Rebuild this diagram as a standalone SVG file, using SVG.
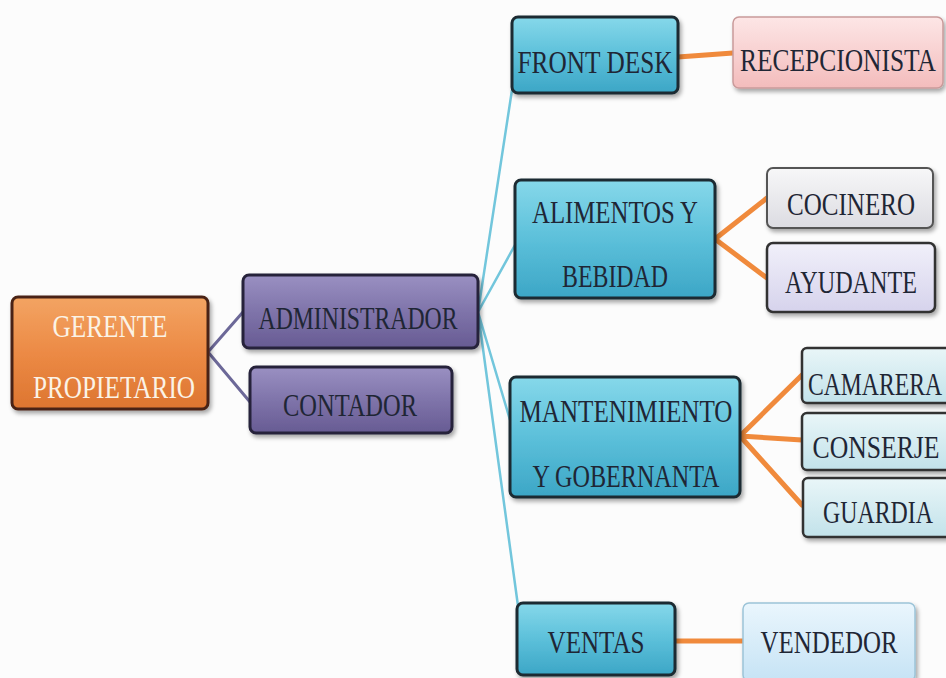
<svg xmlns="http://www.w3.org/2000/svg" width="946" height="678" viewBox="0 0 946 678">
<defs>
<style>
.t{font-family:"Liberation Serif","DejaVu Serif","Noto Serif",serif;font-size:32px;text-anchor:middle}
.dk{fill:#1f2635}
.lt{fill:#fbf3e6}
.b{stroke-width:3}
.cp{fill:none;stroke:#6c6898;stroke-width:3}
.ct{fill:none;stroke:#72c6dc;stroke-width:2.5}
.co{fill:none;stroke:#f08a3c;stroke-width:5;stroke-linecap:round}
</style>
<filter id="sh" x="-10%" y="-10%" width="130%" height="140%">
<feDropShadow dx="2" dy="3" stdDeviation="2" flood-color="#000" flood-opacity="0.35"/>
</filter>
<linearGradient id="gO" x1="0" y1="0" x2="0" y2="1"><stop offset="0" stop-color="#f3a463"/><stop offset="0.5" stop-color="#ec8a45"/><stop offset="1" stop-color="#dd7530"/></linearGradient>
<linearGradient id="gP" x1="0" y1="0" x2="0" y2="1"><stop offset="0" stop-color="#9a90c2"/><stop offset="0.5" stop-color="#7f74aa"/><stop offset="1" stop-color="#675b93"/></linearGradient>
<linearGradient id="gT" x1="0" y1="0" x2="0" y2="1"><stop offset="0" stop-color="#86d8ea"/><stop offset="0.5" stop-color="#5cc0da"/><stop offset="1" stop-color="#3ca6c6"/></linearGradient>
<linearGradient id="gK" x1="0" y1="0" x2="0" y2="1"><stop offset="0" stop-color="#fde6e6"/><stop offset="1" stop-color="#f3bcbc"/></linearGradient>
<linearGradient id="gG" x1="0" y1="0" x2="0" y2="1"><stop offset="0" stop-color="#f7f7f8"/><stop offset="1" stop-color="#dcdce2"/></linearGradient>
<linearGradient id="gL" x1="0" y1="0" x2="0" y2="1"><stop offset="0" stop-color="#f1f0fa"/><stop offset="1" stop-color="#d6d3ec"/></linearGradient>
<linearGradient id="gA" x1="0" y1="0" x2="0" y2="1"><stop offset="0" stop-color="#e9f6f8"/><stop offset="1" stop-color="#c2e2ea"/></linearGradient>
<linearGradient id="gB" x1="0" y1="0" x2="0" y2="1"><stop offset="0" stop-color="#eaf6fd"/><stop offset="1" stop-color="#c6e3f5"/></linearGradient>
</defs>
<rect width="946" height="678" fill="#fcfcfc"/>

<g id="connectors">
<path class="cp" d="M208,352 L243,312 M208,352 L250,402"/>
<path class="ct" d="M478,312 L512,90 M478,312 L515,245 M478,312 L510,420 M478,312 L518,606"/>
<path class="co" d="M678,57 L733,53"/>
<path class="co" d="M715,239 L767,198 M715,239 L767,278"/>
<path class="co" d="M740,436 L802,375 M740,436 L802,440 M740,436 L802,505"/>
<path class="co" d="M675,641 L743,641"/>
</g>

<g id="gerente">
<rect x="12" y="297" width="196" height="112" rx="6" fill="url(#gO)" stroke="#4a2412" class="b" filter="url(#sh)"/>
<text class="t lt" x="110" y="337" textLength="115" lengthAdjust="spacingAndGlyphs">GERENTE</text>
<text class="t lt" x="114" y="398" textLength="162" lengthAdjust="spacingAndGlyphs">PROPIETARIO</text>
</g>

<g id="administrador">
<rect x="243" y="275" width="235" height="73" rx="6" fill="url(#gP)" stroke="#26223a" class="b" filter="url(#sh)"/>
<text class="t dk" x="358" y="329" textLength="199" lengthAdjust="spacingAndGlyphs">ADMINISTRADOR</text>
</g>

<g id="contador">
<rect x="250" y="367" width="202" height="66" rx="6" fill="url(#gP)" stroke="#26223a" class="b" filter="url(#sh)"/>
<text class="t dk" x="350" y="416" textLength="134" lengthAdjust="spacingAndGlyphs">CONTADOR</text>
</g>

<g id="frontdesk">
<rect x="512" y="17" width="166" height="76" rx="6" fill="url(#gT)" stroke="#1b2a30" class="b" filter="url(#sh)"/>
<text class="t dk" x="595" y="73" textLength="155" lengthAdjust="spacingAndGlyphs">FRONT DESK</text>
</g>

<g id="recepcionista">
<rect x="733" y="17" width="210" height="71" rx="6" fill="url(#gK)" stroke="#c99a9a" stroke-width="1.5" filter="url(#sh)"/>
<text class="t dk" x="838" y="71" textLength="196" lengthAdjust="spacingAndGlyphs">RECEPCIONISTA</text>
</g>

<g id="alimentos">
<rect x="515" y="180" width="200" height="118" rx="6" fill="url(#gT)" stroke="#1b2a30" class="b" filter="url(#sh)"/>
<text class="t dk" x="615" y="223" textLength="166" lengthAdjust="spacingAndGlyphs">ALIMENTOS Y</text>
<text class="t dk" x="615" y="287" textLength="106" lengthAdjust="spacingAndGlyphs">BEBIDAD</text>
</g>

<g id="cocinero">
<rect x="767" y="168" width="166" height="60" rx="6" fill="url(#gG)" stroke="#555" stroke-width="2" filter="url(#sh)"/>
<text class="t dk" x="851" y="215" textLength="128" lengthAdjust="spacingAndGlyphs">COCINERO</text>
</g>

<g id="ayudante">
<rect x="767" y="243" width="168" height="69" rx="6" fill="url(#gL)" stroke="#333" stroke-width="2.5" filter="url(#sh)"/>
<text class="t dk" x="851" y="293" textLength="132" lengthAdjust="spacingAndGlyphs">AYUDANTE</text>
</g>

<g id="mantenimiento">
<rect x="510" y="377" width="230" height="120" rx="6" fill="url(#gT)" stroke="#1b2a30" class="b" filter="url(#sh)"/>
<text class="t dk" x="626" y="422" textLength="213" lengthAdjust="spacingAndGlyphs">MANTENIMIENTO</text>
<text class="t dk" x="626" y="487" textLength="187" lengthAdjust="spacingAndGlyphs">Y GOBERNANTA</text>
</g>

<g id="camarera">
<rect x="802" y="348" width="150" height="55" rx="5" fill="url(#gA)" stroke="#333" stroke-width="2.5" filter="url(#sh)"/>
<text class="t dk" x="875" y="395" textLength="134" lengthAdjust="spacingAndGlyphs">CAMARERA</text>
</g>

<g id="conserje">
<rect x="802" y="413" width="150" height="57" rx="5" fill="url(#gA)" stroke="#333" stroke-width="2.5" filter="url(#sh)"/>
<text class="t dk" x="876" y="458" textLength="127" lengthAdjust="spacingAndGlyphs">CONSERJE</text>
</g>

<g id="guardia">
<rect x="803" y="478" width="150" height="59" rx="5" fill="url(#gA)" stroke="#333" stroke-width="2.5" filter="url(#sh)"/>
<text class="t dk" x="878" y="523" textLength="110" lengthAdjust="spacingAndGlyphs">GUARDIA</text>
</g>

<g id="ventas">
<rect x="517" y="603" width="158" height="72" rx="6" fill="url(#gT)" stroke="#1b2a30" class="b" filter="url(#sh)"/>
<text class="t dk" x="596" y="653" textLength="97" lengthAdjust="spacingAndGlyphs">VENTAS</text>
</g>

<g id="vendedor">
<rect x="743" y="603" width="172" height="78" rx="6" fill="url(#gB)" stroke="#9cc4d8" stroke-width="1.5" filter="url(#sh)"/>
<text class="t dk" x="829" y="653" textLength="137" lengthAdjust="spacingAndGlyphs">VENDEDOR</text>
</g>
</svg>
